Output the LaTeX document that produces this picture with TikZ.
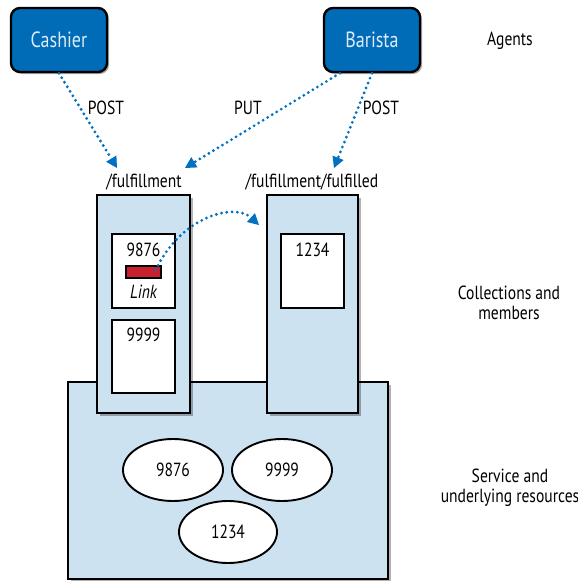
\documentclass[tikz,border=0pt]{standalone}
\usepackage{fontspec}
\setmainfont{PT Sans}[FakeStretch=0.82]
\usetikzlibrary{arrows.meta,shadows,calc,shapes.geometric}
\definecolor{agentblue}{RGB}{0,107,182}
\definecolor{agenttext}{RGB}{222,236,250}
\definecolor{lightfill}{RGB}{204,226,240}
\definecolor{linkred}{RGB}{200,32,46}
\definecolor{arrowblue}{RGB}{0,112,192}
\tikzset{
  every node/.style={font=\fontsize{19}{20}\selectfont, inner sep=0pt},
  agentbox/.style={draw=black, line width=2.4pt, fill=agentblue, text=agenttext, rounded corners=9pt,
    minimum width=96pt, minimum height=64pt, font=\fontsize{22}{24}\selectfont,
    drop shadow={shadow xshift=2pt, shadow yshift=-2pt, opacity=0.35, fill=black}},
  collbox/.style={draw=black, line width=1.9pt, fill=lightfill, minimum height=218pt,
    drop shadow={shadow xshift=2.5pt, shadow yshift=-2.5pt, opacity=0.3, fill=black}},
  svcbox/.style={draw=black, line width=1.9pt, fill=lightfill, minimum width=320pt, minimum height=197pt,
    drop shadow={shadow xshift=2.5pt, shadow yshift=-2.5pt, opacity=0.3, fill=black}},
  memberbox/.style={draw=black, line width=1.9pt, fill=white, minimum width=63pt},
  resource/.style={draw=black, line width=1.9pt, fill=white, ellipse, minimum width=100pt, minimum height=62pt},
  linkbar/.style={draw=black, line width=1.3pt, fill=linkred, minimum width=35pt, minimum height=12pt},
  dotarrow/.style={draw=arrowblue, line width=3.1pt, line cap=round, dash pattern=on 0pt off 5.3pt,
    -{Triangle[length=11pt,width=12pt,line width=0pt]}},
}
\begin{document}
\begin{tikzpicture}[x=1pt,y=-1pt]
\useasboundingbox (0,0) rectangle (578,581);
% agents
\node[agentbox] (cashier) at (59,40) {Cashier};
\node[agentbox] (barista) at (372,40) {Barista};
\node (agents) at (510,41) {Agents};
% service
\node[svcbox] (svc) at (228,480.5) {};
% collections
\node[collbox, minimum width=93pt] (coll) at (143.5,304) {};
\node[collbox, minimum width=91pt] (fulf) at (312.5,304) {};
\node (fl) at (144,182) {/fulfillment};
\node (ffl) at (312,182) {/fulfillment/fulfilled};
% members
\node[memberbox, minimum height=74pt] (m9876) at (143.5,271) {};
\node[memberbox, minimum height=73pt] (m9999) at (143.5,356.5) {};
\node[memberbox, minimum height=74pt] (m1234) at (312.5,271) {};
\node (t9876) at (143.5,250) {9876};
\node (t9999) at (143.5,335) {9999};
\node (t1234) at (312.5,250) {1234};
\node[linkbar] (lk) at (143.5,272) {};
\node (lkt) at (143.5,292) {\itshape Link};
% resources
\node[resource] (e9876) at (173,470) {9876};
\node[resource] (e9999) at (282,470) {9999};
\node[resource, minimum width=98pt] (e1234) at (228,532) {1234};
% side labels
\node[align=center] (collbl) at (509,303) {Collections and\\members};
\node[align=center] (svclbl) at (510,488) {Service and\\underlying resources};
% arrow end points
\coordinate (t1) at (117,168);
\coordinate (t2) at (185,168);
\coordinate (t3) at (334,168);
\coordinate (t4) at (259,225);
% arrows
\draw[dotarrow] (cashier.south) -- (t1);
\draw[dotarrow] ([xshift=-32pt]barista.south) -- (t2);
\draw[dotarrow] (barista.south) -- (t3);
\draw[dotarrow] ($(lk.east)+(-6,-2)$) .. controls (182,215) and (235,203) .. (t4);
% arrow labels
\node (post1) at (106,108) {POST};
\node (put) at (248,108) {PUT};
\node (post2) at (381,108) {POST};
\end{tikzpicture}
\end{document}
